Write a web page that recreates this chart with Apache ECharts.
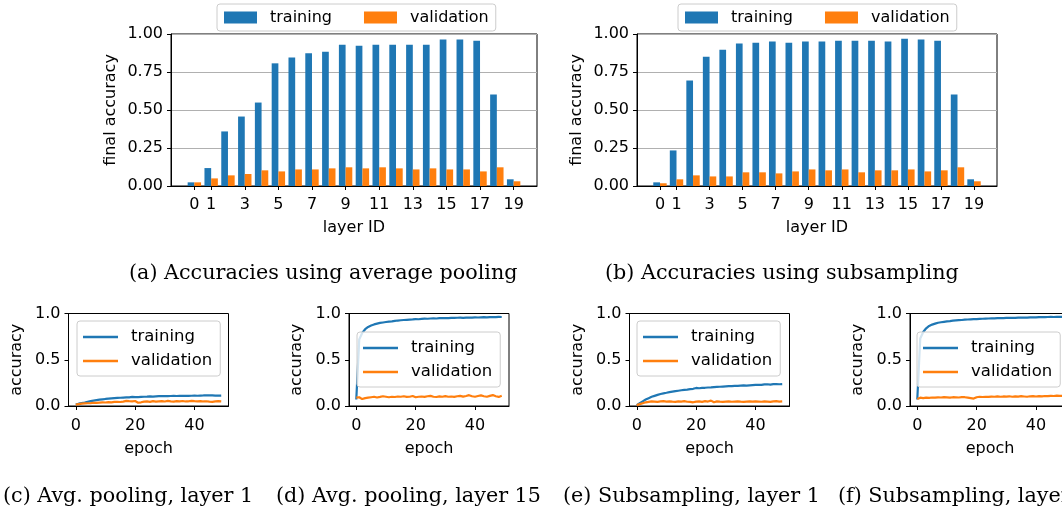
<!DOCTYPE html>
<html>
<head>
<meta charset="utf-8">
<script src="https://cdn.jsdelivr.net/npm/echarts@6/dist/echarts.min.js"></script>
<style>html,body{margin:0;padding:0;background:#fff}#c{width:1062px;height:514px}</style>
</head>
<body>
<div id="c"></div>
<script>
// ---------- data ----------
const layers = [0,1,2,3,4,5,6,7,8,9,10,11,12,13,14,15,16,17,18,19];
const layerTicks = [0,1,3,5,7,9,11,13,15,17,19];
const avgTrain = [0.024,0.118,0.359,0.457,0.549,0.807,0.845,0.873,0.884,0.930,0.923,0.930,0.930,0.930,0.930,0.963,0.963,0.956,0.602,0.044];
const avgVal   = [0.024,0.050,0.070,0.079,0.103,0.096,0.109,0.109,0.116,0.123,0.116,0.123,0.116,0.109,0.116,0.109,0.109,0.096,0.123,0.031];
const subTrain = [0.024,0.234,0.694,0.851,0.897,0.937,0.943,0.950,0.943,0.950,0.950,0.956,0.956,0.956,0.950,0.969,0.963,0.956,0.602,0.044];
const subVal   = [0.018,0.044,0.070,0.063,0.063,0.090,0.090,0.083,0.096,0.109,0.103,0.109,0.090,0.103,0.103,0.109,0.096,0.103,0.123,0.031];

const epochTicks = [0,20,40];
const cTrain = [0.015,0.025,0.032,0.038,0.045,0.052,0.058,0.063,0.068,0.072,0.076,0.079,0.082,0.085,0.087,0.089,0.091,0.093,0.094,0.098,0.096,0.097,0.099,0.100,0.101,0.103,0.102,0.104,0.106,0.108,0.107,0.106,0.108,0.109,0.108,0.110,0.109,0.111,0.110,0.111,0.112,0.111,0.113,0.114,0.116,0.115,0.114,0.113,0.112,0.113];
const cVal = [0.015,0.020,0.025,0.028,0.030,0.032,0.035,0.033,0.037,0.040,0.038,0.042,0.040,0.044,0.045,0.043,0.048,0.055,0.052,0.050,0.054,0.035,0.040,0.048,0.050,0.045,0.052,0.047,0.050,0.053,0.049,0.055,0.050,0.048,0.052,0.050,0.054,0.049,0.051,0.055,0.052,0.050,0.053,0.049,0.051,0.047,0.045,0.050,0.052,0.050];
const dTrain = [0.07,0.72,0.79,0.83,0.855,0.87,0.882,0.89,0.898,0.903,0.908,0.912,0.915,0.92,0.924,0.927,0.93,0.932,0.934,0.936,0.94,0.938,0.942,0.944,0.943,0.946,0.947,0.946,0.949,0.95,0.951,0.95,0.953,0.952,0.954,0.955,0.953,0.956,0.957,0.956,0.958,0.957,0.959,0.96,0.958,0.961,0.962,0.96,0.963,0.962];
const dVal = [0.09,0.095,0.075,0.085,0.09,0.095,0.1,0.092,0.098,0.105,0.1,0.095,0.1,0.097,0.103,0.1,0.105,0.098,0.1,0.108,0.095,0.1,0.103,0.098,0.105,0.11,0.1,0.097,0.104,0.1,0.107,0.1,0.103,0.098,0.105,0.11,0.102,0.108,0.117,0.105,0.1,0.108,0.115,0.105,0.1,0.11,0.118,0.105,0.098,0.11];
const eTrain = [0.01,0.03,0.05,0.07,0.085,0.1,0.11,0.12,0.13,0.137,0.143,0.15,0.155,0.16,0.165,0.17,0.175,0.178,0.182,0.186,0.195,0.192,0.195,0.197,0.2,0.202,0.205,0.207,0.208,0.21,0.212,0.214,0.215,0.217,0.218,0.22,0.222,0.221,0.224,0.226,0.228,0.23,0.228,0.233,0.235,0.232,0.236,0.238,0.235,0.237];
const eVal = [0.01,0.02,0.03,0.04,0.045,0.05,0.048,0.045,0.05,0.052,0.048,0.05,0.047,0.045,0.05,0.048,0.052,0.046,0.045,0.04,0.048,0.05,0.045,0.052,0.048,0.058,0.04,0.05,0.047,0.045,0.048,0.05,0.046,0.048,0.05,0.047,0.045,0.048,0.05,0.047,0.05,0.048,0.046,0.05,0.048,0.045,0.05,0.052,0.048,0.05];
const fTrain = [0.07,0.73,0.8,0.84,0.865,0.88,0.89,0.9,0.905,0.91,0.915,0.918,0.922,0.925,0.928,0.93,0.933,0.935,0.937,0.939,0.94,0.942,0.943,0.945,0.946,0.947,0.948,0.95,0.949,0.951,0.952,0.953,0.954,0.953,0.955,0.956,0.957,0.956,0.958,0.959,0.958,0.96,0.961,0.96,0.962,0.963,0.962,0.964,0.965,0.964];
const fVal = [0.075,0.09,0.085,0.09,0.088,0.092,0.09,0.094,0.092,0.095,0.093,0.09,0.095,0.094,0.092,0.096,0.095,0.09,0.085,0.08,0.095,0.1,0.097,0.1,0.098,0.102,0.1,0.104,0.1,0.103,0.102,0.105,0.1,0.104,0.102,0.106,0.103,0.1,0.105,0.107,0.103,0.106,0.104,0.108,0.106,0.11,0.108,0.112,0.11,0.108];

const captions = [
  '(a) Accuracies using average pooling',
  '(b) Accuracies using subsampling',
  '(c) Avg. pooling, layer 1',
  '(d) Avg. pooling, layer 15',
  '(e) Subsampling, layer 1',
  '(f) Subsampling, layer 15'
];

// ---------- styling ----------
const BLUE = '#1f77b4', ORANGE = '#ff7f0e';
const SANS = 'DejaVu Sans';
const SERIF = 'DejaVu Serif';
const FS = 16;

const grids = [
  {left:171, top:34, width:366, height:152},
  {left:637, top:34, width:360, height:152},
  {left:68.5, top:313.5, width:160, height:92.5},
  {left:349, top:313.5, width:160, height:92.5},
  {left:629.5, top:313.5, width:160, height:92.5},
  {left:910, top:313.5, width:160, height:92.5}
].map(g => Object.assign({show:true, borderColor:'#000', borderWidth:1, backgroundColor:'transparent', outerBoundsMode:'none', containLabel:false}, g));

const axisCommon = {
  axisLine:{show:true, onZero:false, lineStyle:{color:'#000', width:1}},
  axisTick:{show:true, inside:false, length:4, lineStyle:{color:'#000', width:1}},
  axisLabel:{color:'#000', fontFamily:SANS, fontSize:FS, margin:8},
  nameTextStyle:{color:'#000', fontFamily:SANS, fontSize:FS},
  nameLocation:'middle',
  nameMoveOverlap:false
};
function mk(o){ return echarts.util.merge(echarts.util.clone(axisCommon), o, true); }

const xAxes = [], yAxes = [];
for (let i=0;i<2;i++){
  xAxes.push(mk({type:'value', gridIndex:i, min:-1.39, max:20.39, name:'layer ID', nameGap:34,
    splitLine:{show:false},
    axisTick:{customValues:layerTicks}, axisLabel:{margin:11, customValues:layerTicks, formatter:v=>String(v)}}));
  yAxes.push(mk({type:'value', gridIndex:i, min:0, max:1, interval:0.25, name:'final accuracy', nameGap:52,
    splitLine:{show:true, lineStyle:{color:'#b0b0b0', width:1}},
    axisLabel:{formatter:v=>v.toFixed(2)}}));
}
for (let i=2;i<6;i++){
  xAxes.push(mk({type:'value', gridIndex:i, min:-2.45, max:51.45, name:'epoch', nameGap:35,
    splitLine:{show:false},
    axisTick:{customValues:epochTicks}, axisLabel:{margin:12, customValues:epochTicks, formatter:v=>String(v)}}));
  yAxes.push(mk({type:'value', gridIndex:i, min:0, max:1, interval:0.5, name:'accuracy', nameGap:44,
    splitLine:{show:false},
    axisLabel:{formatter:v=>v.toFixed(1)}}));
}

const series = [];
function bars(idx, tr, va){
  series.push({type:'bar', name:'training', xAxisIndex:idx, yAxisIndex:idx, barWidth:6.7, barGap:'0%',
    itemStyle:{color:BLUE}, data: layers.map((l,k)=>[l, tr[k]])});
  series.push({type:'bar', name:'validation', xAxisIndex:idx, yAxisIndex:idx, barWidth:6.7, barGap:'0%',
    itemStyle:{color:ORANGE}, data: layers.map((l,k)=>[l, va[k]])});
}
bars(0, avgTrain, avgVal);
bars(1, subTrain, subVal);
function lines(idx, tr, va){
  series.push({type:'line', name:'training', xAxisIndex:idx, yAxisIndex:idx, showSymbol:false, symbol:'none',
    lineStyle:{color:BLUE, width:2.2}, itemStyle:{color:BLUE}, data: tr.map((v,k)=>[k, v])});
  series.push({type:'line', name:'validation', xAxisIndex:idx, yAxisIndex:idx, showSymbol:false, symbol:'none',
    lineStyle:{color:ORANGE, width:2.2}, itemStyle:{color:ORANGE}, data: va.map((v,k)=>[k, v])});
}
lines(2, cTrain, cVal);
lines(3, dTrain, dVal);
lines(4, eTrain, eVal);
lines(5, fTrain, fVal);

function topLegend(left){
  return {left:left, top:4, orient:'horizontal', padding:[4,7,4,7], itemWidth:33, itemHeight:12, itemGap:32,
    icon:'rect', data:['training','validation'], backgroundColor:'rgba(255,255,255,0.8)',
    borderColor:'#cccccc', borderWidth:1, borderRadius:3, selectedMode:false,
    textStyle:{fontFamily:SANS, fontSize:FS, color:'#000', lineHeight:19, padding:[0,0,0,8]}};
}
function botLegend(left, top){
  return {left:left, top:top, orient:'vertical', padding:[7,8,6,6], itemWidth:35, itemHeight:2.4, itemGap:6,
    icon:'rect', data:['training','validation'], backgroundColor:'rgba(255,255,255,0.8)',
    borderColor:'#cccccc', borderWidth:1, borderRadius:3, selectedMode:false,
    textStyle:{fontFamily:SANS, fontSize:16.5, color:'#000', lineHeight:18, padding:[0,0,0,8]}};
}
const legends = [topLegend(217), topLegend(678), botLegend(77,321), botLegend(357,332), botLegend(637,321), botLegend(917,332)];

const capPos = [[129,274],[605,274],[3,497],[276,497],[563,497],[838,497]];
const graphics = captions.map((t,i)=>({type:'text', x:capPos[i][0], y:capPos[i][1], z:10,
  style:{text:t, fill:'#000', font:'20.7px "'+SERIF+'"', textVerticalAlign:'middle', textAlign:'left'}}));

const chart = echarts.init(document.getElementById('c'), null, {renderer:'canvas'});
chart.setOption({
  animation:false,
  grid:grids, xAxis:xAxes, yAxis:yAxes, series:series, legend:legends, graphic:graphics
});
</script>
</body>
</html>
